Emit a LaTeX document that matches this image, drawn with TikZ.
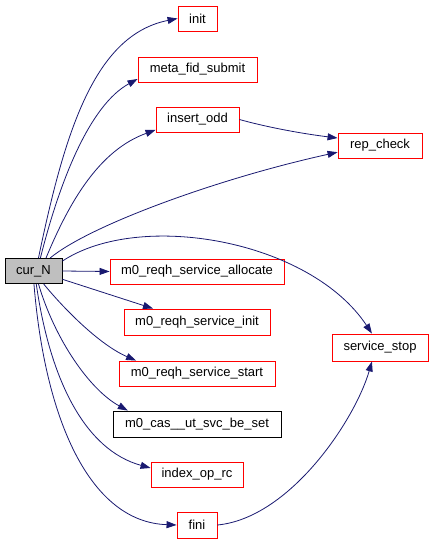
\documentclass[tikz,border=0pt]{standalone}
\usepackage{fontspec}
\setmainfont{Liberation Sans}
\usetikzlibrary{arrows.meta}
\definecolor{edgec}{RGB}{25,25,112}
\definecolor{boxred}{RGB}{255,0,0}
\definecolor{curfill}{RGB}{191,191,191}
\begin{document}
\begin{tikzpicture}[x=1pt,y=-1pt,
  box/.style={draw=boxred, line width=0.9pt, minimum height=25pt, inner sep=0pt,
    font=\fontsize{13}{15}\selectfont, anchor=center, fill=white},
  blackbox/.style={box, draw=black},
  curbox/.style={box, draw=black, fill=curfill},
  call/.style={draw=edgec, line width=0.8pt, -{Triangle[length=10pt,width=7pt]}}]
\useasboundingbox (0,0) rectangle (433,544);

\node[curbox, minimum width=57pt] (cur) at (33.5,271) {cur\_N};
\node[box, minimum width=39pt] (init) at (197.5,18.5) {init};
\node[box, minimum width=119pt] (meta) at (197.5,69.5) {meta\_fid\_submit};
\node[box, minimum width=83pt] (ins) at (197.5,119.5) {insert\_odd};
\node[box, minimum width=84pt] (rep) at (380,145.5) {rep\_check};
\node[box, minimum width=174pt] (alloc) at (197,271.5) {m0\_reqh\_service\_allocate};
\node[box, minimum width=146pt, minimum height=26pt] (rinit) at (197,322) {m0\_reqh\_service\_init};
\node[box, minimum width=156pt] (rstart) at (197,373.5) {m0\_reqh\_service\_start};
\node[blackbox, minimum width=168pt, minimum height=26pt] (cas) at (197,424) {m0\_cas\_\_ut\_svc\_be\_set};
\node[box, minimum width=92pt] (idx) at (197,474.5) {index\_op\_rc};
\node[box, minimum width=40pt, minimum height=26pt] (fini) at (197,525) {fini};
\node[box, minimum width=96pt, minimum height=27pt] (stop) at (380,347.5) {service\_stop};

\draw[call] (cur.69) .. controls (65,130) and (95,35) .. (init.west);
\draw[call] (cur.62) .. controls (60,180) and (90,105) .. (meta.189);
\draw[call] (cur.46) .. controls (70,200) and (100,150) .. (ins.194);
\draw[call] (cur.38) .. controls (90,225) and (220,178) .. (rep.189);
\draw[call] (ins.east) .. controls (270,128) and (305,134) .. (rep.170);
\draw[call] (cur.19) .. controls (140,210) and (310,240) .. (stop.120);
\draw[call] (cur.east) -- (alloc.west);
\draw[call] (cur.-16) -- (rinit.163.5);
\draw[call] (cur.-52) .. controls (65,310) and (100,345) .. (rstart.168);
\draw[call] (cur.-69) .. controls (55,340) and (90,390) .. (cas.169);
\draw[call] (cur.-78) .. controls (50,380) and (85,450) .. (idx.172);
\draw[call] (cur.-88) .. controls (45,420) and (90,522) .. (fini.west);
\draw[call] (fini.east) .. controls (290,518) and (355,420) .. (stop.240);
\end{tikzpicture}
\end{document}
